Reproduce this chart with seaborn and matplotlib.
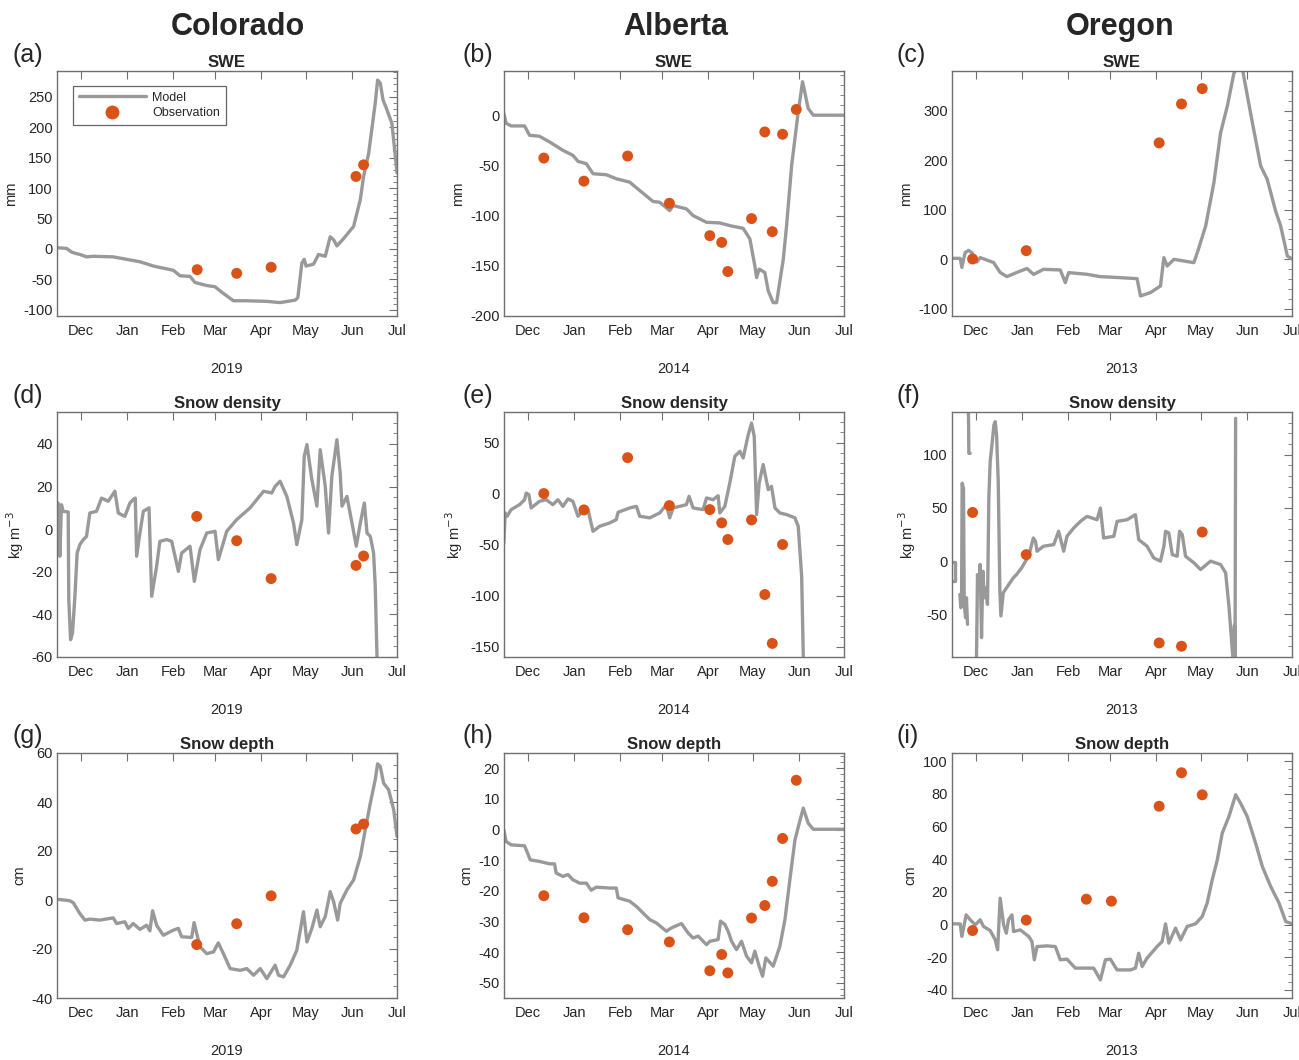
import numpy as np
import pandas as pd
import matplotlib
matplotlib.use("Agg")
import matplotlib.pyplot as plt
import matplotlib.dates as mdates
from matplotlib.lines import Line2D
from matplotlib.ticker import AutoMinorLocator, MultipleLocator
import seaborn as sns

nan = np.nan

sites = ["Colorado", "Alberta", "Oregon"]
years = [2019, 2014, 2013]
variables = ["SWE", "Snow density", "Snow depth"]
units = ["mm", "kg m$^{-3}$", "cm"]
letters = ["(a)", "(b)", "(c)", "(d)", "(e)", "(f)", "(g)", "(h)", "(i)"]

# model minus reference, x = days since 1 Dec of the previous year
a_mod_days = [-16, -9.6, -6.3, -4, -0.7, 3.8, 8.3, 21.7, 30.7, 39.6, 48.6, 62, 66.5, 73.2, 76.5,
              84.4, 90, 93.4, 102.3, 111, 124.7, 133.6, 143.7, 145.5, 148.2, 149.8, 151, 156,
              159.4, 163.9, 167.2, 169.5, 171.7, 176.2, 179.5, 182.9, 187.4, 189.6, 193, 197.4,
              199, 200.8, 202.6, 205.3, 208.6, 212]
a_mod_vals = [2, 1, -5, -7, -9, -13, -12, -13, -17, -21, -28, -35, -44, -45, -55, -60, -62, -69,
              -85, -85, -86, -88, -84, -80, -23, -17, -28, -25, -9, -12, 20, 15, 5, 17, 27, 37,
              81, 119, 157, 239, 277, 272, 245, 228, 206, 125]
a_obs_days = [78, 104.5, 127.6, 184.5, 189.6]
a_obs_vals = [-34, -40, -30, 119, 138]

b_mod_days = [-16.1, -14.6, -11.2, -2.2, 1.1, 7.8, 14.6, 23.5, 30.2, 33.6, 39.2, 43.7, 52.6, 59.3,
              68.3, 75, 84, 88.4, 95.1, 97.4, 106.3, 110.8, 119.8, 128.7, 135.4, 144.4, 148.9,
              152.2, 153.4, 155.1, 158.9, 161.2, 164.5, 166.8, 171.3, 173.5, 176.9, 181.3, 184.2,
              188, 191.4, 212]
b_mod_vals = [1.7, -8, -10.7, -10.7, -20, -21, -26.7, -35, -40, -46, -48.3, -58.3, -59.3, -63.3,
              -66.7, -75, -86, -86.7, -95, -90, -93.3, -100, -106.7, -107.3, -110, -112.7, -123.3,
              -150, -161.7, -153.3, -156.7, -175, -186.7, -186.7, -143.3, -110, -50, 3.3, 33.3,
              6.7, 0, 0]
b_obs_days = [10.7, 37.6, 66.9, 94.9, 122, 130, 134.1, 150, 158.9, 163.9, 170.8, 180]
b_obs_vals = [-42.7, -65.7, -40.7, -87.7, -120, -126.7, -155.7, -103, -16.7, -116, -19, 5.7]

c_mod_days = [-16.1, -10.5, -9.4, -7.2, -4.9, -2.7, 0.7, 2.9, 11.9, 16.3, 20.8, 27.5, 34.3, 38.7,
              45.4, 56.6, 60, 62.2, 74.5, 83.5, 92.5, 108.1, 110.4, 117.1, 123.8, 126.1, 128.3,
              132.8, 146.2, 148.5, 154.1, 159.6, 164.1, 168.6, 173, 176, 179, 184.2, 191, 195.4,
              201, 204.4, 208.9, 212.2]
c_mod_vals = [1.5, 1.5, -17, 13, 17.6, 13, -6, 3, -7, -27, -35.5, -27, -19, -31, -20.7, -22,
              -47.6, -27.4, -30.7, -35.5, -36.8, -39.5, -74.5, -67.7, -54.3, 2.9, -14, -0.5,
              -7.2, 13, 66.7, 154, 255, 308.7, 375, 392, 380, 295, 188, 161, 97, 67, 6, 0]
c_obs_days = [-2.2, 33.8, 122.9, 137.9, 151.8]
c_obs_vals = [0.2, 17, 234.8, 313.4, 344.4]

d_mod_days = [-15.2, -14.1, -13, -11.9, -8.5, -8.1, -6.9, -5.6, -4, -2.5, -0.7, 1.6, 3.8, 6, 10.5,
              13.9, 18.4, 22.8, 25.1, 29.5, 32.9, 35.1, 36.5, 37.4, 39.6, 41.9, 45.7, 47.5, 50.8,
              53, 57.5, 60.9, 65.4, 67.6, 73.2, 76.1, 79.9, 84.4, 90, 92.2, 97.8, 104.5, 113.5,
              122.5, 128, 130.3, 133.6, 138.1, 142.6, 144.8, 148.2, 149.8, 151.6, 154.9, 158.3,
              160.5, 163.9, 166.1, 168.3, 171.7, 173.9, 175.1, 178.4, 181.8, 184.7, 187.4, 190.1,
              191.9, 194.1, 196.3, 197.4, 198.6, 199.7]
d_mod_vals = [12.3, -12.7, 11.5, 8.4, 8.1, -33, -51.9, -48.7, -31.5, -11.2, -7.3, -4.9, -3.4, 7.6,
              8.4, 14.6, 13.1, 17.8, 7.6, 6, 12.3, 13.9, 14.6, -12.7, -1.8, 8.4, 10, -31.5, -17.4,
              -5.7, -4.9, -5.7, -19.8, -11.2, -8, -24.5, -9.6, -1.8, -1, -14.3, -1, 4.5, 10, 17.8,
              17, 20.1, 22.5, 15.4, 2.9, -7.3, 4.5, 34.2, 39.7, 23.3, 10.8, 37.3, 20.1, -1.8,
              24.8, 42, 26.4, 10.8, 15.4, 2.9, -8, 2.9, 12.3, -1.8, -3.4, -11.2, -26.8, -60, -75]
d_obs_days = [77.7, 104.5, 127.6, 184.5, 189.6]
d_obs_vals = [6, -5.4, -23.2, -17, -12.6]

e_mod_days = [-16.1, -15.2, -13.9, -11.2, -5.6, -2.2, -1.1, 0.7, 2.2, 7.8, 12.3, 16.8, 20.1, 23.5,
              26.9, 30.2, 33.6, 36.9, 40.3, 43.7, 48.1, 54.8, 59.3, 60.5, 68.3, 72.8, 75, 81.7,
              88.4, 93, 95.1, 97.4, 106.3, 108.1, 110.8, 117.5, 119.8, 124.2, 127.6, 128.7, 132.1,
              135.4, 138.8, 142.2, 144.4, 147.8, 150, 151.8, 153.4, 155.1, 157.8, 161.2, 163.4,
              165.7, 169, 173.5, 179.1, 181.3, 183.6, 184.7, 185.1]
e_mod_vals = [-48.3, -18.9, -22.1, -15.6, -10.8, -5.9, 0.6, -1, -14, -7.5, -5.9, -10.8, -5.9,
              -12.4, -5.2, -7.5, -22.1, -17.3, -15.6, -36.9, -32, -28.7, -25.4, -18.2, -14, -12.4,
              -22.1, -23.7, -18.9, -10.8, -23.7, -14, -10.8, -2.6, -14, -15.6, -4.2, -5.9, -2,
              -18.9, -12.4, 10.4, 36.6, 41.5, 35, 57.8, 69.2, 56.2, -20.5, 10.4, 28.5, 3.9, 7.2,
              -14, -18.9, -20.5, -23.7, -32, -80.9, -159.8, -182]
e_obs_days = [10.7, 37.6, 66.9, 94.9, 122, 130, 134.1, 150, 158.9, 163.9, 170.8]
e_obs_vals = [0.1, -15.9, 35.3, -11.7, -15.6, -28.6, -44.9, -25.7, -98.8, -146.7, -49.8]

# nan marks a break in the model line
f_mod_days = [-17, -13.8, -13.8, -17, nan,
              -10.7, -10.1, -9.6, -9.2, -8.3, -7.8, -6.9, -6.3, -5.6, nan,
              -5.1, -4.7, -3.8, nan,
              0.4, 1.1, 2, 2.9, 3.8, 4.7, 5.6, 6.5, 7.8, 8.7,
              9.6, 11, 12.1, 13, 13.9, 15, 16.1, 16.8, 18.4, 20.6,
              22.8, 25.1, 27.3, 30.7, 34, 36.3, 38.5, 40, 41, 45.4,
              52.2, 55.5, 58.9, 61.1, 65.6, 70.1, 74.5, 81.3, 83.5, 85.7,
              92.5, 94.7, 101.4, 107, 109.2, 114.8, 119.3, 123.8, 126.1, 127.2,
              129.4, 131.7, 135, 136.6, 138.4, 140.6, 146.2, 150.7, 157.4, 164.1,
              167.5, 169.7, 172.6, 173.4, 173.8, 174.2]
f_mod_vals = [-1, -1, -19, -19, nan,
              -31.3, -43.7, -37.5, 73.2, 68.5, -40.6, -53.1, -34.4, -59.3, nan,
              160, 101.2, 101.2, nan,
              -95, -12.6, -28.2, -3.2, -71.8, -9.5, -34.4, -25, -40.6, 59.2,
              93.5, 112, 127.8, 130.9, 118.4, 74.7, -28.2, -51.5, -29.7, -25,
              -20.4, -15.7, -12.6, -6.3, 1.5, 9.3, 21.7, 18.6, 9.3, 14,
              15.5, 28, 9.3, 23.3, 31.1, 37.3, 42, 38.9, 49.8, 21.7,
              23.3, 37.3, 38.9, 43.6, 20.2, 14, 3, 0, 14, 28,
              26.4, 6.1, 4.6, 28, 24.9, 4.6, -1.6, -7.9, 0, -3.2,
              -11, -42.2, -95, -60, -95, 134]
f_obs_days = [-2.2, 33.8, 122.9, 137.9, 151.8]
f_obs_vals = [45.7, 6.1, -76.8, -79.9, 27.3]

g_mod_days = [-15.9, -7.4, -5.1, -0.7, 2.7, 6, 12.8, 21.7, 24, 29.5, 31.8, 35.1, 39.6, 44.1, 46.3,
              48.1, 50.8, 55.3, 62, 65.4, 67.6, 74.3, 75.9, 79.9, 84.4, 88.9, 92.2, 95.6, 100.1,
              106.8, 111.3, 115.8, 120.3, 124.7, 130.3, 132.5, 135.9, 140.4, 144.8, 149.3, 151.6,
              154.9, 158.3, 160.5, 163.9, 167.2, 169.5, 172.2, 173.9, 178.4, 182.9, 187.4, 190.7,
              194.1, 197.4, 199, 200.8, 203, 206.4, 209.8, 212]
g_mod_vals = [0.3, -0.3, -1.1, -5.5, -8.2, -7.8, -8.2, -7.3, -9.6, -8.9, -11.6, -9.6, -12, -10.3,
              -12.6, -4.4, -10.3, -14.4, -12.3, -11.6, -15, -15.3, -9.2, -19.1, -21.9, -21.2,
              -17.5, -21.9, -28, -28.7, -28, -30.7, -28, -32.1, -26.6, -30.7, -31.4, -26.6, -20.5,
              -4.8, -17.1, -11.6, -4.1, -10.9, -6.8, 3.4, -0.7, -8.2, -1.4, 4.1, 8.2, 17.7, 28.6,
              39.5, 49.1, 55.6, 54.5, 47.7, 45, 36.8, 25.9]
g_obs_days = [77.7, 104.5, 127.6, 184.5, 189.6]
g_obs_vals = [-18.2, -9.7, 1.7, 29, 31]

h_mod_days = [-16.1, -14.6, -11.2, -2.2, 1.6, 7.8, 14.6, 17.9, 19, 23.5, 26.9, 30.2, 34.7, 39.2,
              42.5, 45.9, 54.8, 59.3, 60.5, 68.3, 72.8, 81.7, 86.2, 92.9, 96.3, 103, 107.5, 110.8,
              114.2, 119.8, 122, 127.6, 129.2, 132.1, 134.3, 136.6, 139.9, 143.3, 146.6, 150,
              152.2, 155.1, 157.4, 159.6, 164.5, 169, 172.4, 175.7, 179.1, 182, 184.7, 188, 191.4,
              212]
h_mod_vals = [-0.1, -3.9, -5, -5.3, -9.9, -10.4, -11.2, -11.2, -14.2, -15.3, -14.7, -16.4, -17.5,
              -17.5, -19.8, -18.8, -19.1, -19.1, -22.3, -23.4, -25.1, -29.4, -30.5, -33.2, -32.1,
              -30.7, -33.8, -35.4, -34.8, -37.6, -36.5, -35.9, -29.9, -31, -33.2, -36.5, -39.2,
              -36.5, -41.3, -43.5, -39.7, -44.6, -47.9, -41.9, -44.6, -38.1, -29.4, -16.4, -3.4,
              2.1, 7, 2.1, 0.1, 0.1]
h_obs_days = [10.7, 37.6, 66.9, 94.9, 122, 130, 134.1, 150, 158.9, 163.9, 170.8, 180]
h_obs_vals = [-21.6, -28.8, -32.7, -36.7, -46.1, -40.8, -46.8, -28.9, -24.8, -16.9, -2.9, 16.1]

i_mod_days = [-16.1, -10.5, -9.4, -6.5, -3.8, -0.4, 2.9, 5.1, 9.6, 13, 14.6, 16.3, 18.6, 20.4,
              21.9, 24.2, 25.3, 29.8, 35.4, 37.6, 39.2, 41, 47.7, 53.3, 56.6, 61.1, 66.7, 72.3,
              79, 83.5, 86.9, 90.2, 94.7, 103.7, 107, 109.2, 111.5, 114.8, 121.5, 124.9, 127.2,
              129.4, 133.9, 137.3, 141.7, 147.3, 151.8, 155.1, 158.5, 161.9, 165.2, 169.7, 174.2,
              177.5, 182, 187.6, 192.1, 197.7, 203.3, 207.8, 212.2]
i_mod_vals = [0.4, 0.4, -7.3, 5.9, 2.9, -0.2, 2.9, -1.2, -3.7, -9.4, -15.5, 16.1, -0.2, -5.3,
              2.9, 5.9, -4.3, -3.3, -7.3, -10.4, -21.6, -13.5, -13.1, -13.5, -21.6, -21.2, -26.7,
              -26.7, -26.7, -33.9, -21.6, -21.2, -27.8, -27.8, -26.7, -17.6, -25.7, -20.6, -13.5,
              -10.4, 0.4, -11.4, -2.2, -9.4, -1.2, 0.4, 4.9, 13.1, 27.3, 39.6, 55.9, 66.1, 79.4,
              74.3, 66.1, 49.8, 35.5, 23.3, 13.1, 1.8, 0.4]
i_obs_days = [-2.2, 33.8, 74.1, 90.9, 122.9, 137.9, 151.8]
i_obs_vals = [-3.7, 2.7, 15.5, 14.3, 72.4, 92.9, 79.4]

panels = [
    (a_mod_days, a_mod_vals, a_obs_days, a_obs_vals),
    (b_mod_days, b_mod_vals, b_obs_days, b_obs_vals),
    (c_mod_days, c_mod_vals, c_obs_days, c_obs_vals),
    (d_mod_days, d_mod_vals, d_obs_days, d_obs_vals),
    (e_mod_days, e_mod_vals, e_obs_days, e_obs_vals),
    (f_mod_days, f_mod_vals, f_obs_days, f_obs_vals),
    (g_mod_days, g_mod_vals, g_obs_days, g_obs_vals),
    (h_mod_days, h_mod_vals, h_obs_days, h_obs_vals),
    (i_mod_days, i_mod_vals, i_obs_days, i_obs_vals),
]

y_limits = [(-110, 292), (-200, 44), (-115, 380),
            (-60, 55), (-160, 80), (-90, 140),
            (-40, 60), (-55, 25), (-45, 105)]
y_steps = [50, 50, 100, 20, 50, 50, 20, 10, 20]

GREY = "#999999"
ORANGE = "#D95319"
EDGE = "#707070"

sns.set_style("white")
plt.rcParams["font.family"] = ["Liberation Sans", "DejaVu Sans"]
plt.rcParams["axes.unicode_minus"] = False
plt.rcParams["text.color"] = "#262626"
plt.rcParams["axes.labelcolor"] = "#262626"
plt.rcParams["xtick.color"] = "#262626"
plt.rcParams["ytick.color"] = "#262626"

W, H = 1299, 1060
fig = plt.figure(figsize=(W / 100, H / 100), dpi=100)

col_left = [57, 504, 952]
row_top = [71, 412, 753]
AX_W, AX_H = 340, 245

for k, (md, mv, od, ov) in enumerate(panels):
    row, col = divmod(k, 3)
    base = pd.Timestamp(f"{years[col] - 1}-12-01")
    ax = fig.add_axes([col_left[col] / W, 1 - (row_top[row] + AX_H) / H, AX_W / W, AX_H / H])

    mv_arr = np.array(mv, dtype=float)
    seg = np.cumsum(np.isnan(mv_arr))
    model = pd.DataFrame({"date": base + pd.to_timedelta(md, unit="D"),
                          "value": mv_arr, "seg": seg}).dropna()
    obs = pd.DataFrame({"date": base + pd.to_timedelta(od, unit="D"), "value": ov})

    sns.lineplot(data=model, x="date", y="value", units="seg", estimator=None, sort=False,
                 color=GREY, lw=2.4, ax=ax, legend=False, zorder=2)
    sns.scatterplot(data=obs, x="date", y="value", color=ORANGE, s=62, edgecolor="none",
                    ax=ax, legend=False, zorder=3)

    ax.set_xlim(base - pd.Timedelta(days=16), base + pd.Timedelta(days=212))
    ax.set_ylim(*y_limits[k])
    ax.xaxis.set_major_locator(mdates.MonthLocator())
    ax.xaxis.set_major_formatter(mdates.DateFormatter("%b"))
    ax.yaxis.set_major_locator(MultipleLocator(y_steps[k]))
    ax.yaxis.set_minor_locator(AutoMinorLocator())
    ax.tick_params(axis="both", which="both", direction="in", top=True, right=True,
                   labelsize=10.5, color=EDGE)
    ax.tick_params(axis="x", which="major", length=6, pad=6)
    ax.tick_params(axis="y", which="major", length=6, pad=3)
    ax.tick_params(axis="y", which="minor", length=3)
    for sp in ax.spines.values():
        sp.set_color(EDGE)
        sp.set_linewidth(1.0)

    ax.set_title(variables[row], fontsize=12, fontweight="bold", pad=3)
    ax.set_xlabel(str(years[col]), fontsize=10.5, labelpad=17)
    ax.set_ylabel(units[row], fontsize=10.5, labelpad=4)

    if k == 0:
        handles = [Line2D([], [], color=GREY, lw=2.4),
                   Line2D([], [], color=ORANGE, marker="o", ls="none", markersize=10,
                          markeredgecolor="none")]
        leg = ax.legend(handles, ["Model", "Observation"], loc="upper left",
                        bbox_to_anchor=(16 / AX_W, 1 - 15 / AX_H), borderaxespad=0,
                        fontsize=9, handlelength=5.4, handletextpad=0.5,
                        labelspacing=0.3, borderpad=0.45, fancybox=False, frameon=True)
        leg.get_frame().set_edgecolor("#404040")
        leg.get_frame().set_linewidth(0.9)

for col, name in enumerate(sites):
    fig.text([238, 676, 1120][col] / W, 1 - 27 / H, name, fontsize=22, fontweight="bold",
             ha="center", va="center")

for k, lab in enumerate(letters):
    row, col = divmod(k, 3)
    fig.text([12, 462, 897][col] / W, 1 - [55, 396, 736][row] / H, lab, fontsize=18,
             ha="left", va="center")

fig.savefig("out.png", dpi=100)
